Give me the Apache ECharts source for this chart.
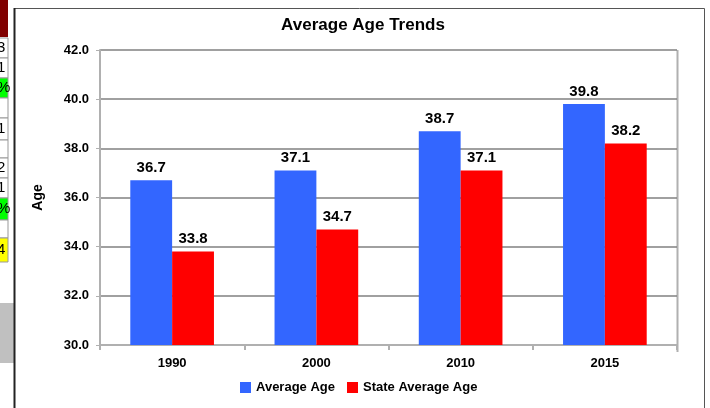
<!DOCTYPE html>
<html>
<head>
<meta charset="utf-8">
<script src="https://cdn.jsdelivr.net/npm/echarts@6/dist/echarts.min.js"></script>
<style>
  html, body { margin: 0; padding: 0; background: #fff; }
  #chart { width: 710px; height: 408px; }
</style>
</head>
<body>
<div id="chart"></div>
<script>
var years = ['1990', '2000', '2010', '2015'];
var averageAge = [36.7, 37.1, 38.7, 39.8];
var stateAverageAge = [33.8, 34.7, 37.1, 38.2];

var font = 'Liberation Sans, Arial, sans-serif';

// bits of the spreadsheet showing on the left of the chart
var sheetCells = [
    {y: 38, h: 20, text: '3', fill: '#fff'},
    {y: 58, h: 20, text: '1', fill: '#fff'},
    {y: 78, h: 20, text: '%', fill: '#00ff00'},
    {y: 98, h: 20, text: '', fill: '#fff'},
    {y: 118, h: 22, text: '1', fill: '#fff'},
    {y: 140, h: 18, text: '', fill: '#fff'},
    {y: 158, h: 20, text: '2', fill: '#fff'},
    {y: 178, h: 20, text: '1', fill: '#fff'},
    {y: 198, h: 22, text: '%', fill: '#00ff00'},
    {y: 220, h: 18, text: '', fill: '#fff'},
    {y: 238, h: 24, text: '4', fill: '#ffff00'}
];
var sheetGraphics = [
    {type: 'rect', shape: {x: 0, y: 0, width: 8, height: 37}, style: {fill: '#800000'}},
    {type: 'rect', shape: {x: 0, y: 303, width: 14, height: 60}, style: {fill: '#c0c0c0'}}
];
sheetCells.forEach(function (c) {
    sheetGraphics.push({
        type: 'rect',
        shape: {x: -2, y: c.y, width: 10, height: c.h},
        style: {fill: c.fill, stroke: '#999', lineWidth: 1}
    });
    if (c.text) {
        sheetGraphics.push({
            type: 'text', x: -3, y: c.y + c.h / 2,
            style: {text: c.text, font: '15px ' + font, fill: '#000', verticalAlign: 'middle'}
        });
    }
});
// chart frame
sheetGraphics.push({
    type: 'polyline',
    shape: {points: [[14.5, 410], [14.5, 8.5], [704.5, 8.5], [704.5, 410]]},
    style: {fill: null, stroke: '#555', lineWidth: 1}
});
sheetGraphics.push({
    type: 'line',
    shape: {x1: 14.5, y1: 8, x2: 14.5, y2: 408},
    style: {stroke: '#222', lineWidth: 2}
});

var chart = echarts.init(document.getElementById('chart'));
chart.setOption({
    backgroundColor: '#fff',
    animation: false,
    title: {
        text: 'Average Age Trends',
        left: 358,
        textAlign: 'center',
        top: 12,
        textStyle: {fontFamily: font, fontSize: 17, fontWeight: 'bold', color: '#000'}
    },
    legend: {
        top: 376,
        left: 235,
        itemWidth: 11,
        itemHeight: 11,
        itemGap: 12,
        icon: 'rect',
        textStyle: {fontFamily: font, fontSize: 13, fontWeight: 'bold', color: '#000'},
        data: ['Average Age', 'State Average Age']
    },
    grid: {left: 100, right: 33, top: 50, bottom: 63},
    xAxis: {
        type: 'category',
        data: years,
        axisLine: {lineStyle: {color: '#b0b0b0', width: 2}},
        axisTick: {show: true, length: 5, lineStyle: {color: '#b0b0b0', width: 2}},
        axisLabel: {fontFamily: font, fontSize: 13, fontWeight: 'bold', color: '#000', margin: 12}
    },
    yAxis: {
        type: 'value',
        min: 30,
        max: 42,
        interval: 2,
        name: 'Age',
        nameLocation: 'middle',
        nameGap: 55,
        nameTextStyle: {fontFamily: font, fontSize: 14, fontWeight: 'bold', color: '#000'},
        axisLine: {show: true, lineStyle: {color: '#b0b0b0', width: 2}},
        axisTick: {show: true, length: 4, lineStyle: {color: '#b0b0b0'}},
        axisLabel: {
            fontFamily: font, fontSize: 13, fontWeight: 'bold', color: '#000', margin: 11,
            formatter: function (v) { return v.toFixed(1); }
        },
        splitLine: {lineStyle: {color: '#808080', width: 1.5}}
    },
    series: [
        {
            name: 'Average Age',
            type: 'bar',
            data: averageAge,
            barGap: '0%',
            barCategoryGap: '42%',
            itemStyle: {color: '#3366ff'},
            label: {
                show: true, position: 'top', distance: 5,
                fontFamily: font, fontSize: 15, fontWeight: 'bold', color: '#000',
                formatter: function (p) { return p.value.toFixed(1); }
            }
        },
        {
            name: 'State Average Age',
            type: 'bar',
            data: stateAverageAge,
            itemStyle: {color: '#ff0000'},
            label: {
                show: true, position: 'top', distance: 5,
                fontFamily: font, fontSize: 15, fontWeight: 'bold', color: '#000',
                formatter: function (p) { return p.value.toFixed(1); }
            }
        }
    ],
    graphic: sheetGraphics.concat([
        {
            type: 'line',
            shape: {x1: 677.5, y1: 50, x2: 677.5, y2: 352},
            style: {stroke: '#b0b0b0', lineWidth: 2}
        }
    ])
});
</script>
</body>
</html>
